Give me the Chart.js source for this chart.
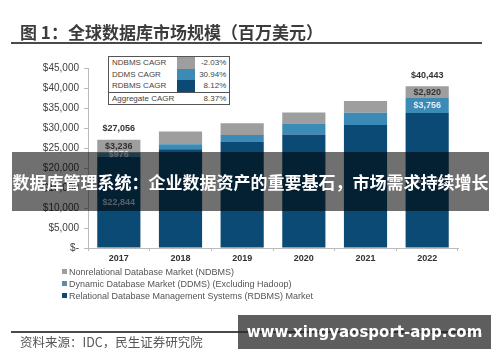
<!DOCTYPE html>
<html>
<head>
<meta charset="utf-8">
<script src="https://cdn.jsdelivr.net/npm/chart.js@4/dist/chart.umd.min.js"></script>
<style>
  body { margin: 0; background: #fff; }
  #wrap { position: relative; width: 500px; height: 362px; overflow: hidden; font-family: "Liberation Sans", Arial, sans-serif; }
  #chart { position: absolute; left: 0; top: 0; }
  .title { position: absolute; left: 20px; top: 19px; font: bold 17px "Noto Sans CJK SC", sans-serif; color: #3c3c3c; white-space: nowrap; }
  .rule { position: absolute; left: 11px; width: 471px; height: 2px; background: #4a4a4a; }
  .source { position: absolute; left: 20px; top: 332px; font: 12.5px "Noto Sans CJK SC", sans-serif; color: #555; white-space: nowrap; }
  #legend { position: absolute; left: 62px; top: 266px; font-size: 9px; color: #555; line-height: 12px; }
  #legend span { display: inline-block; width: 5px; height: 5px; margin-right: 2px; vertical-align: 1px; }
  #cagr { position: absolute; left: 108px; top: 56px; border-collapse: collapse; border: 1px solid #555; font-size: 8px; color: #444; background: #fff; }
  #cagr td { padding: 0 3px; height: 11.5px; line-height: 11.5px; }
  #cagr td.v { text-align: right; width: 28px; }
  #cagr td.sw { width: 18px; padding: 0; }
  #cagr tr.agg td { border-top: 1px solid #555; }
  .banner { position: absolute; left: 12px; top: 152px; width: 477px; height: 59px; background: rgba(0,0,0,0.56); color: #fff; font: bold 17px "Noto Sans CJK SC", sans-serif; line-height: 59px; text-align: center; white-space: nowrap; }
  .mark { position: absolute; left: 238px; top: 315px; width: 253px; height: 34px; background: rgba(40,40,40,0.75); color: #fff; font: bold 15px "DejaVu Sans", sans-serif; line-height: 34px; text-align: center; white-space: nowrap; }
</style>
</head>
<body>
<div id="wrap">
  <canvas id="chart" width="500" height="362"></canvas>
  <div class="title">图 1：全球数据库市场规模（百万美元）</div>
  <div class="rule" style="top:42px"></div>
  <table id="cagr"></table>
  <div id="legend"></div>
  <div class="rule" style="top:331px"></div>
  <div class="source">资料来源：IDC，民生证券研究院</div>
  <div class="banner">数据库管理系统：企业数据资产的重要基石，市场需求持续增长</div>
  <div class="mark">www.xingyaosport-app.com</div>
</div>
<script>
const years = ["2017", "2018", "2019", "2020", "2021", "2022"];
const rdbms = [22844, 24700, 26600, 28400, 30750, 33767];
const ddms = [976, 1250, 1650, 2750, 3050, 3756];
const ndbms = [3236, 3200, 2950, 2700, 2950, 2920];
const yTicks = [0, 5000, 10000, 15000, 20000, 25000, 30000, 35000, 40000, 45000];
const seriesNames = [
  "Nonrelational Database Market (NDBMS)",
  "Dynamic Database Market (DDMS) (Excluding Hadoop)",
  "Relational Database Management Systems (RDBMS) Market"
];
const cagrNames = ["NDBMS CAGR", "DDMS CAGR", "RDBMS CAGR", "Aggregate CAGR"];
const cagrValues = ["-2.03%", "30.94%", "8.12%", "8.37%"];
const labelYears = [0, 5]; // bars that carry value labels

const colors = { ndbms: "#9e9e9e", ddms: "#3b8bb6", rdbms: "#0b4a74" };

function money(v) {
  return v === 0 ? "$-" : "$" + v.toLocaleString("en-US");
}

// legend and CAGR table as html
const legendColors = [colors.ndbms, "#5d8ca5", colors.rdbms];
document.getElementById("legend").innerHTML = seriesNames
  .map((n, i) => '<div><span style="background:' + legendColors[i] + '"></span>' + n + "</div>")
  .join("");

const swatch = [colors.ndbms, colors.ddms, colors.rdbms];
let rows = "";
cagrNames.forEach((n, i) => {
  const sw = i < 3 ? '<td class="sw" style="background:' + swatch[i] + '"></td>' : '<td class="sw"></td>';
  rows += "<tr" + (i === 3 ? ' class="agg"' : "") + "><td>" + n + "</td>" + sw + '<td class="v">' + cagrValues[i] + "</td></tr>";
});
document.getElementById("cagr").innerHTML = rows;

const valueLabels = {
  id: "valueLabels",
  afterDatasetsDraw(chart) {
    const ctx = chart.ctx;
    ctx.save();
    ctx.textAlign = "center";
    ctx.textBaseline = "middle";
    ctx.font = "bold 9px 'Liberation Sans', Arial, sans-serif";
    const textColors = ["#c8d6e4", "#e2eef6", "#333"];
    labelYears.forEach((i) => {
      chart.data.datasets.forEach((ds, d) => {
        const bar = chart.getDatasetMeta(d).data[i];
        const mid = (bar.y + bar.base) / 2;
        ctx.fillStyle = textColors[d];
        ctx.fillText(money(ds.data[i]), bar.x, mid);
      });
      const top = chart.getDatasetMeta(2).data[i];
      const total = rdbms[i] + ddms[i] + ndbms[i];
      ctx.fillStyle = "#333";
      ctx.fillText(money(total), top.x, top.y - 11);
    });
    ctx.restore();
  }
};

new Chart(document.getElementById("chart"), {
  type: "bar",
  data: {
    labels: years,
    datasets: [
      { label: seriesNames[2], data: rdbms, backgroundColor: colors.rdbms },
      { label: seriesNames[1], data: ddms, backgroundColor: colors.ddms },
      { label: seriesNames[0], data: ndbms, backgroundColor: colors.ndbms }
    ]
  },
  options: {
    responsive: false,
    animation: false,
    layout: { padding: { top: 68, right: 42, bottom: 94, left: 0 } },
    datasets: { bar: { categoryPercentage: 0.7, barPercentage: 1 } },
    scales: {
      x: {
        stacked: true,
        grid: { drawOnChartArea: false, tickLength: 3, color: "#bbb" },
        border: { color: "#bbb" },
        ticks: { color: "#333", font: { size: 9, weight: "bold", family: "Liberation Sans" }, padding: 2 },
        afterFit(scale) { scale.height = 20; }
      },
      y: {
        stacked: true,
        min: 0,
        max: 45000,
        afterBuildTicks(scale) { scale.ticks = yTicks.map((v) => ({ value: v })); },
        grid: { drawOnChartArea: false, tickLength: 4, color: "#bbb" },
        border: { color: "#bbb" },
        ticks: { color: "#404040", font: { size: 10, family: "Liberation Sans" }, padding: 5, callback: (v) => money(v) },
        afterFit(scale) { scale.width = 88; }
      }
    },
    plugins: { legend: { display: false }, tooltip: { enabled: false } }
  },
  plugins: [valueLabels]
});
</script>
</body>
</html>
